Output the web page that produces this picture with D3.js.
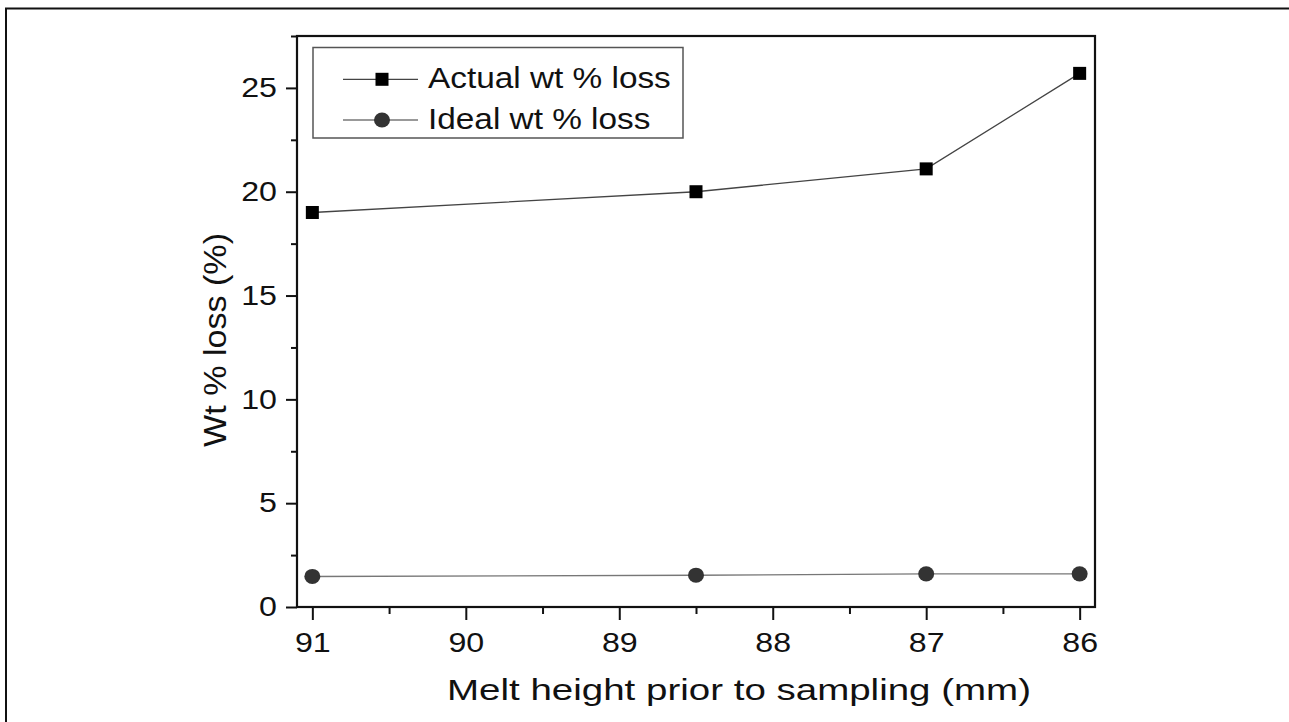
<!DOCTYPE html>
<html>
<head>
<meta charset="utf-8">
<script src="https://cdn.jsdelivr.net/npm/d3@7"></script>
<style>
  body { margin: 0; background: #fff; }
  svg text { font-family: "Liberation Sans", Arial, sans-serif; fill: #111; }
</style>
</head>
<body>
<div id="chart"></div>
<script>
// data
const meltHeights = [91, 88.5, 87, 86];
const actualLoss = [19.0, 20.0, 21.1, 25.7];
const idealLoss = [1.47, 1.53, 1.6, 1.6];
const seriesNames = ["Actual wt % loss", "Ideal wt % loss"];
const xTicks = [91, 90, 89, 88, 87, 86];
const xMinorTicks = [90.5, 89.5, 88.5, 87.5, 86.5];
const yTicks = [0, 5, 10, 15, 20, 25];
const yMinorTicks = [2.5, 7.5, 12.5, 17.5, 22.5, 27.5];

const W = 1289, H = 722;
const plot = {left: 297, right: 1095, top: 36, bottom: 607};
const STRETCH = 1.17; // glyphs in the figure are wider than Arial

const svg = d3.select("#chart").append("svg")
  .attr("width", W)
  .attr("height", H);

// outer figure border (cropped on right and bottom)
svg.append("path")
  .attr("d", `M6,${H} V8.5 H${W}`)
  .attr("fill", "none")
  .attr("stroke", "#111")
  .attr("stroke-width", 2);

const x = d3.scaleLinear().domain([91.1, 85.9]).range([plot.left, plot.right]);
const y = d3.scaleLinear().domain([0, 27.5]).range([plot.bottom, plot.top]);

function stretch(sel, k) {
  sel.each(function() {
    const w = this.getComputedTextLength();
    d3.select(this).attr("textLength", w * k).attr("lengthAdjust", "spacingAndGlyphs");
  });
}

// x axis
svg.append("g")
  .attr("transform", `translate(0,${plot.bottom})`)
  .call(d3.axisBottom(x).tickValues(xTicks).tickFormat(d3.format("d"))
    .tickSize(13).tickPadding(12).tickSizeOuter(0));
svg.append("g")
  .attr("transform", `translate(0,${plot.bottom})`)
  .call(d3.axisBottom(x).tickValues(xMinorTicks).tickFormat("").tickSize(7).tickSizeOuter(0));

// y axis
svg.append("g")
  .attr("transform", `translate(${plot.left},0)`)
  .call(d3.axisLeft(y).tickValues(yTicks).tickFormat(d3.format("d"))
    .tickSize(11).tickPadding(9).tickSizeOuter(0));
svg.append("g")
  .attr("transform", `translate(${plot.left},0)`)
  .call(d3.axisLeft(y).tickValues(yMinorTicks).tickFormat("").tickSize(6).tickSizeOuter(0));

svg.selectAll(".domain").remove();
svg.selectAll(".tick line").attr("stroke", "#111").attr("stroke-width", 2);
svg.selectAll(".tick text")
  .attr("font-size", 27.5)
  .attr("font-family", "Liberation Sans, Arial, sans-serif")
  .attr("fill", "#111");
stretch(svg.selectAll(".tick text"), STRETCH);

// plot frame
svg.append("rect")
  .attr("x", plot.left).attr("y", plot.top)
  .attr("width", plot.right - plot.left).attr("height", plot.bottom - plot.top)
  .attr("fill", "none")
  .attr("stroke", "#111")
  .attr("stroke-width", 2.2);

// lines
const actualData = meltHeights.map((h, i) => ({h, v: actualLoss[i]}));
const idealData = meltHeights.map((h, i) => ({h, v: idealLoss[i]}));
const line = d3.line().x(d => x(d.h)).y(d => y(d.v));

svg.append("path").datum(actualData)
  .attr("d", line).attr("fill", "none")
  .attr("stroke", "#444").attr("stroke-width", 1.3);
svg.append("path").datum(idealData)
  .attr("d", line).attr("fill", "none")
  .attr("stroke", "#777").attr("stroke-width", 1.3);

// markers
svg.selectAll(".sq").data(actualData).enter().append("rect")
  .attr("x", d => x(d.h) - 6.5)
  .attr("y", d => y(d.v) - 6.5)
  .attr("width", 13).attr("height", 13)
  .attr("fill", "#000");
svg.selectAll(".dot").data(idealData).enter().append("ellipse")
  .attr("cx", d => x(d.h))
  .attr("cy", d => y(d.v))
  .attr("rx", 8).attr("ry", 7.6)
  .attr("fill", "#333");

// axis titles
svg.append("text")
  .attr("x", 739)
  .attr("y", 700)
  .attr("text-anchor", "middle")
  .attr("font-size", 29)
  .attr("textLength", 584)
  .attr("lengthAdjust", "spacingAndGlyphs")
  .text("Melt height prior to sampling (mm)");

svg.append("text")
  .attr("transform", "translate(226,340) rotate(-90)")
  .attr("text-anchor", "middle")
  .attr("font-size", 31)
  .attr("textLength", 214)
  .attr("lengthAdjust", "spacingAndGlyphs")
  .text("Wt % loss (%)");

// legend
const legend = svg.append("g");
legend.append("rect")
  .attr("x", 313).attr("y", 47.5)
  .attr("width", 370).attr("height", 90.5)
  .attr("fill", "#fff")
  .attr("stroke", "#555")
  .attr("stroke-width", 1.5);

const rowY = [79.3, 120];
const items = legend.selectAll(".item").data(seriesNames).enter().append("g")
  .attr("transform", (d, i) => `translate(0,${rowY[i]})`);
items.append("line")
  .attr("x1", 343).attr("x2", 418)
  .attr("stroke", (d, i) => i === 0 ? "#444" : "#777")
  .attr("stroke-width", 1.3);
items.filter((d, i) => i === 0).append("rect")
  .attr("x", 382 - 6.5).attr("y", -6.5)
  .attr("width", 13).attr("height", 13)
  .attr("fill", "#000");
items.filter((d, i) => i === 1).append("ellipse")
  .attr("cx", 382).attr("cy", 0)
  .attr("rx", 8).attr("ry", 7.6)
  .attr("fill", "#333");
const legendText = items.append("text")
  .attr("x", 428)
  .attr("y", 8.5)
  .attr("font-size", 29)
  .text(d => d);
stretch(legendText, 1.15);
</script>
</body>
</html>
